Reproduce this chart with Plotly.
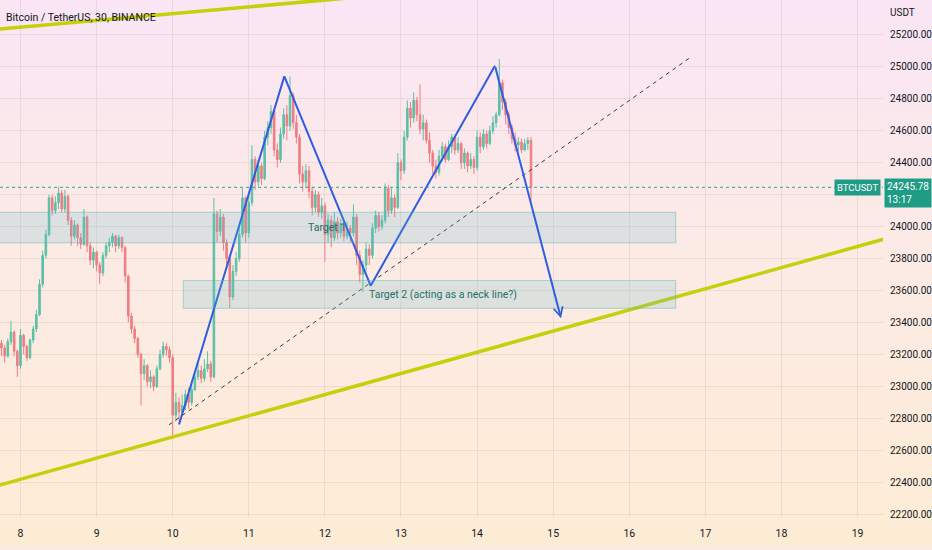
import plotly.graph_objects as go
import pandas as pd

# BTC/USDT candles (hourly), 7 Aug 18:00 -> 14 Aug 17:00
first_open = 23270
closes = [23240, 23190, 23280, 23340, 23220, 23130, 23320, 23250, 23180, 23290,
          23360, 23450, 23640, 23820, 23950, 24180, 24100, 24150, 24210, 24110,
          24190, 24040, 23940, 24010, 23930, 23890, 24060, 23880, 23790, 23840,
          23760, 23710, 23820, 23880, 23900, 23940, 23880, 23930, 23870, 23690,
          23440, 23360, 23300, 23200, 23080, 23130, 23030, 23060, 23000, 23110,
          23200, 23250, 23230, 23180, 22820, 22900, 22840, 22880, 22950, 22900,
          22980, 23060, 23100, 23050, 23110, 23140, 23060, 24080, 23970, 24060,
          23900, 23800, 23560, 23720, 23800, 23950, 24180, 23960, 24150, 24420,
          24280, 24380, 24300, 24560, 24620, 24720, 24480, 24420, 24580, 24700,
          24630, 24820, 24650, 24560, 24330, 24280, 24350, 24220, 24120, 24200,
          24090, 24130, 23950, 24040, 23930, 24030, 23960, 24020, 23940, 23990,
          23960, 24060, 23820, 23700, 23760, 23860, 23820, 23990, 24070, 24000,
          24040, 24240, 24100, 24180, 24120, 24400, 24350, 24560, 24740, 24680,
          24790, 24700, 24610, 24650, 24540, 24460, 24380, 24340, 24440, 24500,
          24420, 24500, 24560, 24480, 24520, 24400, 24460, 24380, 24420, 24370,
          24560, 24500, 24580, 24520, 24600, 24650, 24700, 24900, 24780, 24700,
          24620, 24550, 24510, 24530, 24480, 24520, 24540, 24245.78]
highs = [23290, 23260, 23300, 23410, 23350, 23230, 23360, 23330, 23260, 23300,
         23380, 23480, 23670, 23850, 23980, 24200, 24200, 24190, 24250, 24230,
         24230, 24200, 24060, 24040, 24020, 23960, 24110, 24070, 23900, 23870,
         23850, 23780, 23840, 23900, 23930, 23960, 23950, 23950, 23940, 23880,
         23700, 23460, 23380, 23310, 23210, 23170, 23140, 23100, 23070, 23130,
         23230, 23280, 23270, 23250, 23200, 22960, 22930, 22950, 22980, 22990,
         23010, 23080, 23150, 23130, 23170, 23220, 23160, 24180, 24100, 24110,
         24080, 23920, 23820, 23760, 23840, 23990, 24240, 24190, 24200, 24510,
         24440, 24420, 24400, 24600, 24660, 24760, 24740, 24520, 24620, 24740,
         24760, 24940, 24840, 24700, 24580, 24380, 24390, 24380, 24250, 24230,
         24220, 24180, 24150, 24080, 24070, 24090, 24060, 24050, 24040, 24030,
         24010, 24140, 24080, 23850, 23790, 23900, 23890, 24020, 24100, 24090,
         24070, 24270, 24260, 24240, 24200, 24460, 24420, 24600, 24790, 24780,
         24840, 24810, 24890, 24700, 24670, 24590, 24480, 24420, 24480, 24530,
         24520, 24540, 24580, 24570, 24560, 24530, 24490, 24470, 24460, 24440,
         24600, 24590, 24610, 24600, 24630, 24690, 24720, 25050, 24920, 24800,
         24720, 24640, 24590, 24560, 24550, 24550, 24560, 24560]
lows = [23190, 23150, 23180, 23260, 23190, 23060, 23110, 23200, 23160, 23170,
        23270, 23340, 23440, 23620, 23800, 23940, 24070, 24080, 24110, 24090,
        24090, 24010, 23880, 23920, 23880, 23860, 23880, 23840, 23760, 23740,
        23720, 23640, 23690, 23800, 23840, 23870, 23840, 23860, 23840, 23650,
        23400, 23330, 23270, 23180, 22880, 23040, 23000, 22990, 22970, 22990,
        23100, 23180, 23190, 23150, 22670, 22780, 22780, 22830, 22850, 22860,
        22880, 22970, 23040, 23020, 23030, 23090, 23030, 23050, 23900, 23940,
        23850, 23760, 23490, 23540, 23690, 23780, 23930, 23900, 23930, 24130,
        24230, 24250, 24260, 24290, 24510, 24580, 24440, 24370, 24400, 24550,
        24540, 24600, 24610, 24520, 24270, 24220, 24240, 24180, 24070, 24090,
        24060, 24050, 23780, 23900, 23870, 23910, 23920, 23930, 23910, 23920,
        23900, 23940, 23760, 23650, 23590, 23720, 23760, 23800, 23960, 23970,
        23980, 24020, 24060, 24080, 24060, 24110, 24290, 24330, 24540, 24620,
        24650, 24660, 24580, 24540, 24520, 24400, 24330, 24300, 24320, 24410,
        24400, 24410, 24460, 24450, 24460, 24360, 24360, 24340, 24360, 24330,
        24350, 24460, 24480, 24490, 24510, 24580, 24620, 24690, 24730, 24640,
        24580, 24520, 24470, 24470, 24460, 24470, 24480, 24160]
times = pd.date_range("2022-08-07 18:00", periods=len(closes), freq="h")
opens = [first_open] + closes[:-1]
last_price = 24245.78

# price scale: 24200 sits under the last-price box, so its label is blank
tick_prices = [22200, 22400, 22600, 22800, 23000, 23200, 23400, 23600, 23800,
               24000, 24200, 24400, 24600, 24800, 25000, 25200]
tick_labels = ["22200.00", "22400.00", "22600.00", "22800.00", "23000.00", "23200.00",
               "23400.00", "23600.00", "23800.00", "24000.00", "", "24400.00",
               "24600.00", "24800.00", "25000.00", "25200.00"]

# drawings placed on the chart (time, price)
zigzag_t = ["2022-08-10 02:00", "2022-08-11 11:12", "2022-08-12 14:27",
            "2022-08-14 05:38", "2022-08-15 02:28"]
zigzag_p = [22762, 24940, 23630, 25007, 23426]
neck_t = ["2022-08-09 22:50", "2022-08-16 19:09"]
neck_p = [22760, 25057]
support_t = ["2022-08-07 12:00", "2022-08-19 12:00"]
support_p = [22353, 23942]
upper_t = ["2022-08-07 12:00", "2022-08-13 09:09"]
upper_p = [25227, 25476]
target1 = dict(t0="2022-08-07 00:00", t1="2022-08-16 14:38", p0=23899, p1=24090)
target2 = dict(t0="2022-08-10 03:20", t1="2022-08-16 14:38", p0=23489, p1=23663)
label1 = ("2022-08-11 18:03", 23993, "Target 1")
label2 = ("2022-08-12 13:16", 23573, "Target 2 (acting as a neck line?)")

FONT = "Roboto, Liberation Sans Narrow, sans-serif"
TXT = "#131722"
UP = "#5cbfa6"
DOWN = "#ef7d80"
GREEN = "#1f9c85"
BLUE = "#2f5ce0"
LIME = "#c5cf0a"
W, H = 932, 550

fig = go.Figure()

# pink -> peach gradient behind everything
fig.add_trace(go.Heatmap(z=[[0, 0], [1, 1], [2, 2]], x=[0, 1], y=[0, 0.5, 1],
                         colorscale=[[0, "#fdecd4"], [0.5, "#fcebe4"], [1, "#f9e5f4"]],
                         zsmooth="best", showscale=False, hoverinfo="skip"))

fig.add_trace(go.Candlestick(x=times, open=opens, high=highs, low=lows, close=closes,
                             increasing=dict(line=dict(color=UP, width=1), fillcolor=UP),
                             decreasing=dict(line=dict(color=DOWN, width=1), fillcolor=DOWN),
                             whiskerwidth=0, xaxis="x2", yaxis="y2", showlegend=False))

fig.add_trace(go.Scatter(x=support_t, y=support_p, mode="lines", line=dict(color=LIME, width=3.5),
                         xaxis="x2", yaxis="y2", showlegend=False, hoverinfo="skip"))
fig.add_trace(go.Scatter(x=upper_t, y=upper_p, mode="lines", line=dict(color=LIME, width=3.5),
                         xaxis="x2", yaxis="y2", showlegend=False, hoverinfo="skip"))
fig.add_trace(go.Scatter(x=neck_t, y=neck_p, mode="lines", line=dict(color="#3a3a3a", width=1, dash="4px,4px"),
                         xaxis="x2", yaxis="y2", showlegend=False, hoverinfo="skip"))
fig.add_trace(go.Scatter(x=zigzag_t[:4], y=zigzag_p[:4], mode="lines", line=dict(color=BLUE, width=2),
                         xaxis="x2", yaxis="y2", showlegend=False, hoverinfo="skip"))

for tg in (target1, target2):
    fig.add_shape(type="rect", xref="x2", yref="y2", x0=tg["t0"], x1=tg["t1"], y0=tg["p0"], y1=tg["p1"],
                  fillcolor="rgba(100,185,205,0.2)", line=dict(color="rgba(80,180,175,0.45)", width=1))

fig.add_shape(type="line", xref="x2 domain", yref="y2", x0=0, x1=1, y0=last_price, y1=last_price,
              line=dict(color="#26a69a", width=1, dash="dot"))

# last leg of the zigzag with the arrow head
fig.add_annotation(x=zigzag_t[4], y=zigzag_p[4], xref="x2", yref="y2",
                   ax=zigzag_t[3], ay=zigzag_p[3], axref="x2", ayref="y2",
                   text="", showarrow=True, arrowhead=5, arrowsize=0.9, arrowwidth=2,
                   arrowcolor=BLUE, standoff=0)

for t, p, s in (label1, label2):
    fig.add_annotation(x=t, y=p, xref="x2", yref="y2", text=s, showarrow=False,
                       xanchor="left", yanchor="middle", font=dict(family=FONT, size=10.5, color="#23706a"))

fig.add_annotation(x=4 / W, y=1 - 17.5 / H, xref="paper", yref="paper", text="Bitcoin / TetherUS, 30, BINANCE",
                   showarrow=False, xanchor="left", yanchor="middle", font=dict(family=FONT, size=10.5, color=TXT))
fig.add_annotation(x=888 / W, y=1 - 13 / H, xref="paper", yref="paper", text="USDT",
                   showarrow=False, xanchor="left", yanchor="middle", font=dict(family=FONT, size=10, color=TXT))
fig.add_annotation(x=881 / W, y=last_price, xref="paper", yref="y2", text="BTCUSDT", showarrow=False,
                   xanchor="right", yanchor="middle", bgcolor=GREEN, borderpad=2,
                   font=dict(family=FONT, size=9.5, color="white"))
fig.add_annotation(x=884 / W, y=last_price, xref="paper", yref="y2", text="%.2f<br>13:17" % last_price,
                   showarrow=False, xanchor="left", yanchor="top", yshift=9, align="left",
                   bgcolor=GREEN, borderpad=2, font=dict(family=FONT, size=10, color="white"))

grid = "rgba(170,150,150,0.18)"
fig.update_layout(
    width=W, height=H, autosize=False,
    margin=dict(l=0, r=0, t=0, b=0),
    paper_bgcolor="#fcebe4", plot_bgcolor="rgba(0,0,0,0)",
    font=dict(family=FONT, size=10, color=TXT),
    showlegend=False,
    xaxis=dict(domain=[0, 1], range=[0, 1], visible=False, fixedrange=True),
    yaxis=dict(domain=[0, 1], range=[0, 1], visible=False, fixedrange=True),
    xaxis2=dict(domain=[0, 883 / W], anchor="y2", type="date",
                range=["2022-08-07 17:32", "2022-08-19 08:01"],
                tick0="2022-08-08", dtick=86400000, tickformat="%-d",
                showgrid=True, gridcolor=grid, zeroline=False, showline=False, ticks="",
                ticklabelstandoff=8, tickfont=dict(size=10.5, color=TXT),
                rangeslider=dict(visible=False)),
    yaxis2=dict(domain=[30 / H, 1], anchor="x2", side="right",
                range=[22182, 25418], tickmode="array", tickvals=tick_prices, ticktext=tick_labels,
                showgrid=True, gridcolor=grid, zeroline=False, showline=False, ticks="",
                ticklabelstandoff=6, tickfont=dict(size=10, color=TXT)),
)

fig.write_html("out.html", config={"displayModeBar": False},
               post_script="document.body.style.margin='0';")
